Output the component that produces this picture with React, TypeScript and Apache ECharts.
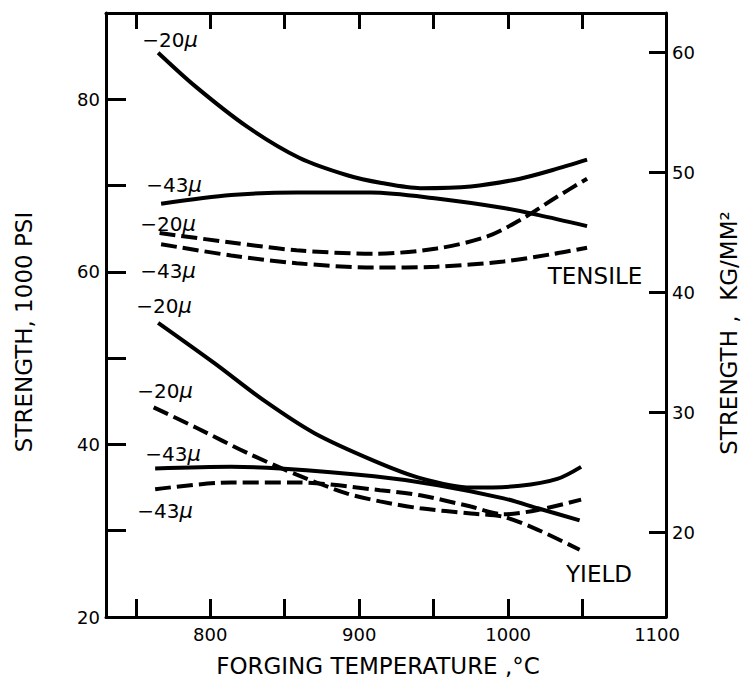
import React, { useEffect, useRef } from "react";
import * as echarts from "echarts";

// Forging temperature (°C) vs strength (1000 psi)
const tensile20Solid = [[765, 85.4], [790, 81.5], [825, 76.8], [860, 73.2], [892, 71.2], [915, 70.3], [941, 69.7], [975, 69.9], [1008, 70.8], [1030, 71.8], [1053, 73.0]];
const tensile43Solid = [[767, 67.9], [814, 68.9], [858, 69.2], [908, 69.2], [952, 68.5], [997, 67.4], [1020, 66.6], [1053, 65.3]];
const tensile20Dashed = [[766, 64.5], [814, 63.4], [858, 62.5], [910, 62.1], [952, 62.7], [986, 64.1], [1008, 66.0], [1031, 68.5], [1053, 70.8]];
const tensile43Dashed = [[767, 63.2], [814, 61.9], [858, 61.0], [910, 60.5], [952, 60.6], [997, 61.2], [1031, 62.1], [1053, 62.8]];
const yield20Solid = [[765, 54.1], [803, 49.4], [836, 45.1], [870, 41.3], [910, 38.1], [941, 36.1], [975, 35.0], [1008, 35.2], [1033, 36.0], [1049, 37.4]];
const yield43Solid = [[763, 37.2], [814, 37.4], [847, 37.2], [910, 36.3], [952, 35.3], [997, 33.75], [1020, 32.6], [1048, 31.2]];
const yield20Dashed = [[762, 44.3], [791, 41.9], [825, 39.0], [858, 36.5], [892, 34.3], [914, 33.4], [941, 32.6], [975, 32.0], [997, 31.6], [1020, 30.1], [1048, 27.8]];
const yield43Dashed = [[763, 34.8], [814, 35.6], [858, 35.6], [914, 34.7], [941, 34.1], [975, 32.8], [997, 31.9], [1020, 32.4], [1049, 33.6]];

const xTickValues = [750, 800, 850, 900, 950, 1000, 1050];
const xLabelValues = [800, 900, 1000, 1100];
const leftTickValues = [30, 40, 50, 60, 70, 80];
const leftLabelValues = [20, 40, 60, 80];
const rightValues = [20, 30, 40, 50, 60];

const curves = [
  { name: "Tensile −20μ", data: tensile20Solid, dashed: false },
  { name: "Tensile −43μ", data: tensile43Solid, dashed: false },
  { name: "Tensile −20μ dashed", data: tensile20Dashed, dashed: true },
  { name: "Tensile −43μ dashed", data: tensile43Dashed, dashed: true },
  { name: "Yield −20μ", data: yield20Solid, dashed: false },
  { name: "Yield −43μ", data: yield43Solid, dashed: false },
  { name: "Yield −20μ dashed", data: yield20Dashed, dashed: true },
  { name: "Yield −43μ dashed", data: yield43Dashed, dashed: true },
];

const curveLabels = [
  { size: "20", x: 170, y: 40 },
  { size: "43", x: 174, y: 185 },
  { size: "20", x: 168, y: 224 },
  { size: "43", x: 168, y: 271 },
  { size: "20", x: 164, y: 306 },
  { size: "20", x: 165, y: 391 },
  { size: "43", x: 173, y: 454 },
  { size: "43", x: 165, y: 511 },
];

const FONT = "DejaVu Sans";

export default function App() {
  const ref = useRef<HTMLDivElement>(null);
  useEffect(() => {
    if (!ref.current) return;
    const chart = echarts.init(ref.current, null, { renderer: "svg" });
    const axisLine = { show: true, lineStyle: { color: "#000", width: 3 } };
    const labelStyle = { color: "#000", fontSize: 18, fontFamily: FONT, formatter: (v: number) => String(v) };
    const graphic: any[] = [];
    curveLabels.forEach((l) => {
      graphic.push({
        type: "text",
        x: l.x,
        y: l.y,
        style: {
          text: "−" + l.size + "{i|μ}",
          fontSize: 20,
          fontFamily: FONT,
          fill: "#000",
          align: "center",
          verticalAlign: "middle",
          rich: { i: { fontStyle: "italic", fontSize: 21, fontFamily: FONT, fill: "#000" } },
        },
      });
    });
    graphic.push(
      { type: "text", x: 595, y: 276, style: { text: "TENSILE", fontSize: 23, fontFamily: FONT, fill: "#000", align: "center", verticalAlign: "middle" } },
      { type: "text", x: 599, y: 574, style: { text: "YIELD", fontSize: 23, fontFamily: FONT, fill: "#000", align: "center", verticalAlign: "middle" } },
      { type: "text", x: 378, y: 666, style: { text: "FORGING TEMPERATURE ,°C", fontSize: 23, fontFamily: FONT, fill: "#000", align: "center", verticalAlign: "middle" } },
      { type: "text", x: 24, y: 332, rotation: Math.PI / 2, style: { text: "STRENGTH, 1000 PSI", fontSize: 23, fontFamily: FONT, fill: "#000", align: "center", verticalAlign: "middle" } },
      { type: "text", x: 729, y: 333, rotation: Math.PI / 2, style: { text: "STRENGTH ,  KG/MM²", fontSize: 23, fontFamily: FONT, fill: "#000", align: "center", verticalAlign: "middle" } }
    );
    chart.setOption({
      animation: false,
      backgroundColor: "#fff",
      grid: { left: 106, right: 78, top: 13, bottom: 71, containLabel: false },
      xAxis: [
        {
          type: "value",
          position: "bottom",
          min: 730,
          max: 1106,
          axisLine,
          axisTick: { show: true, inside: true, length: 18, lineStyle: { color: "#000", width: 3 }, customValues: xTickValues },
          axisLabel: { ...labelStyle, margin: 8, customValues: xLabelValues },
          splitLine: { show: false },
        },
        {
          type: "value",
          position: "top",
          min: 730,
          max: 1106,
          axisLine,
          axisTick: { show: true, inside: true, length: 16, lineStyle: { color: "#000", width: 3 }, customValues: xTickValues },
          axisLabel: { show: false },
          splitLine: { show: false },
        },
      ],
      yAxis: [
        {
          type: "value",
          position: "left",
          min: 20,
          max: 90,
          axisLine,
          axisTick: { show: true, inside: true, length: 20, lineStyle: { color: "#000", width: 3 }, customValues: leftTickValues },
          axisLabel: { ...labelStyle, margin: 6, customValues: leftLabelValues },
          splitLine: { show: false },
        },
        {
          type: "value",
          position: "right",
          min: 12.97,
          max: 63.31,
          axisLine,
          axisTick: { show: true, inside: true, length: 17, lineStyle: { color: "#000", width: 3 }, customValues: rightValues },
          axisLabel: { ...labelStyle, margin: 6, customValues: rightValues },
          splitLine: { show: false },
        },
      ],
      series: curves.map((c) => ({
        name: c.name,
        type: "line",
        xAxisIndex: 0,
        yAxisIndex: 0,
        data: c.data,
        smooth: 0.3,
        symbol: "none",
        showSymbol: false,
        silent: true,
        lineStyle: { color: "#000", width: 4, type: c.dashed ? [16, 6] : "solid", cap: "butt" },
      })),
      graphic,
    });
    return () => chart.dispose();
  }, []);
  return <div ref={ref} style={{ position: "fixed", left: 0, top: 0, width: 744, height: 688, background: "#fff" }} />;
}
